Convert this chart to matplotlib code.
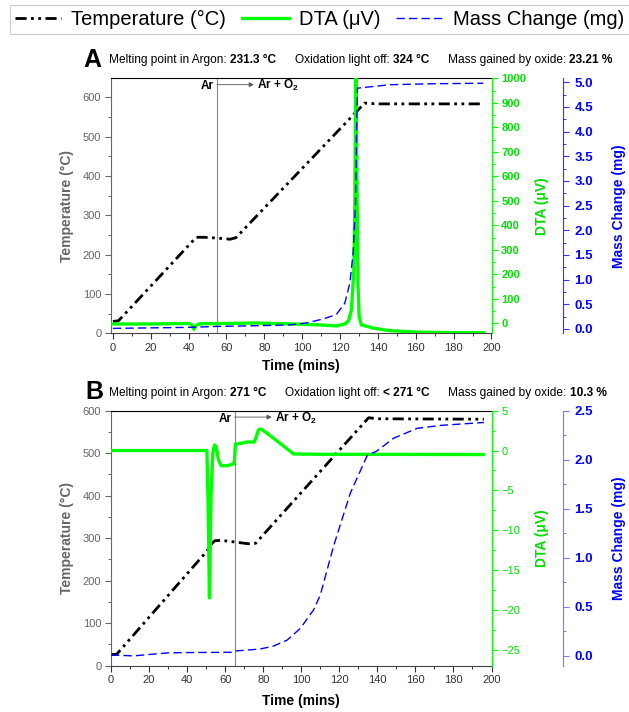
import matplotlib
matplotlib.use("Agg")
import matplotlib.pyplot as plt
from matplotlib.lines import Line2D
from matplotlib.ticker import MultipleLocator

plt.rcParams["font.family"] = ["Liberation Sans", "DejaVu Sans"]
plt.rcParams["mathtext.fontset"] = "custom"
plt.rcParams["mathtext.rm"] = "Liberation Sans"
plt.rcParams["mathtext.bf"] = "Liberation Sans:bold"

# ---- data ----
# panel A
a_temp_t = [0, 3, 44, 48, 55, 62, 65, 133, 140, 196]
a_temp = [30, 32, 244, 244, 242, 239, 243, 585, 583, 583]
a_dta_t = [0, 20, 40, 41.5, 42.8, 44, 46, 60, 75, 90, 100, 110, 118, 122.5, 124.5,
           126, 127.3, 127.8, 128.4, 128.9, 129.5, 130.1, 131.3, 133, 137.5, 146,
           160, 175, 196]
a_dta = [-3, -3, -1, -5, -25, -8, -2, -1, 1, -2, -4, -7, -11, -3, 10,
         54, 218, 490, 1100, 600, 150, 27, -7, -10, -20, -30,
         -36, -38, -39]
a_mass_t = [0, 20, 40, 55, 70, 83, 93.5, 102.3, 111, 118, 122.5, 125.2, 126.9,
            128.2, 128.7, 129.2, 146.3, 170, 195.6]
a_mass = [0.01, 0.02, 0.03, 0.05, 0.06, 0.07, 0.08, 0.12, 0.2, 0.29, 0.52, 0.93,
          1.54, 2.56, 3.92, 4.88, 4.95, 4.97, 4.98]

# panel B
b_temp_t = [0, 3, 50.5, 52.5, 54.5, 58, 65, 72, 76, 135.4, 140, 196]
b_temp = [26, 27, 270, 285, 294, 295, 291, 287, 288, 583.5, 581, 580]
b_dta_t = [0, 50.4, 51.0, 51.75, 52.6, 53.5, 54.4, 55.3, 56.5, 57.9, 60.9, 64.4,
           64.9, 65.4, 68, 71.4, 75.3, 76.3, 77.5, 78.8, 81.9, 88.9, 96, 110, 195.6]
b_dta = [0, 0, -6, -18.5, -5.4, -0.35, 0.7, 0.5, -1.2, -1.9, -1.9, -1.7,
         -1.2, 0.8, 0.9, 1.07, 1.07, 1.7, 2.6, 2.7, 2.2, 0.9, -0.43, -0.47, -0.5]
b_mass_t = [0, 11.8, 29.3, 39.8, 64.4, 65.3, 78.4, 85.4, 92.5, 99.5, 106.5, 110,
            117, 125.8, 134.6, 139.8, 148.6, 160.9, 173.2, 196]
b_mass = [0.01, 0.0, 0.03, 0.034, 0.037, 0.05, 0.07, 0.1, 0.16, 0.28, 0.47, 0.62,
          1.12, 1.66, 2.04, 2.09, 2.22, 2.32, 2.35, 2.38]

panel_letters = ["A", "B"]
melting_points = ["231.3 \u00b0C", "271 \u00b0C"]
light_off = ["324 \u00b0C", "< 271 \u00b0C"]
mass_gained = ["23.21 %", "10.3 %"]
gas_switch = [55, 65]
series_labels = ["Temperature (\u00b0C)", "DTA (\u03bcV)", "Mass Change (mg)"]

# ---- styles ----
W, H = 629, 712
GREEN = "#00ff00"
GREEN_TXT = "#00dd00"
BLUE = "#0000ff"
GRAY = "#666666"
TEMP_STYLE = dict(color="black", lw=2.0, linestyle=(0, (4, 1.6, 1, 1.6, 1, 1.6)))
DTA_STYLE = dict(color=GREEN, lw=2.4)
MASS_STYLE = dict(color=BLUE, lw=1.0, linestyle=(0, (6, 3)))

fig = plt.figure(figsize=(W / 100, H / 100), dpi=100)


def px_rect(left, top, right, bottom):
    return [left / W, 1 - bottom / H, (right - left) / W, (bottom - top) / H]


def header(y_base, pieces):
    renderer = fig.canvas.get_renderer()
    x = 109.3
    for txt, weight, gap in pieces:
        t = fig.text(x / W, 1 - y_base / H, txt, fontsize=8.6, fontweight=weight,
                     ha="left", va="baseline")
        x = t.get_window_extent(renderer).x1 + gap


def draw_panel(rect, i, temp_t, temp, dta_t, dta, mass_t, mass, xlim, temp_lim,
               dta_lim, dta_step, mass_lim, dta_bold, mass_spine, xlabel_y):
    ax = fig.add_axes(px_rect(*rect))
    ax.plot(temp_t, temp, **TEMP_STYLE)
    ax.set_xlim(*xlim)
    ax.set_ylim(*temp_lim)
    ax.xaxis.set_major_locator(MultipleLocator(20))
    ax.xaxis.set_minor_locator(MultipleLocator(10))
    ax.yaxis.set_major_locator(MultipleLocator(100))
    ax.yaxis.set_minor_locator(MultipleLocator(50))
    ax.tick_params(axis="y", which="both", colors=GRAY, labelsize=8, direction="out")
    ax.tick_params(axis="x", which="both", colors="#333333", labelsize=8, direction="out")
    ax.tick_params(which="major", length=4, width=0.8, pad=3)
    ax.tick_params(which="minor", length=2.5, width=0.7)
    ax.spines["right"].set_visible(False)
    ax.spines["left"].set_color(GRAY)
    ax.spines["bottom"].set_color("#444444")
    ax.spines["top"].set_color("black")
    ax.set_ylabel("Temperature (\u00b0C)", fontsize=10, fontweight="bold", color=GRAY)
    ax.yaxis.set_label_coords(-0.097, 0.5)
    ax.set_xlabel("Time (mins)", fontsize=10, fontweight="bold")
    ax.xaxis.set_label_coords(0.5, xlabel_y)

    # gas switch marker
    sw = gas_switch[i]
    ax.axvline(sw, color="#888888", lw=0.8, zorder=1)
    ax.annotate("Ar", xy=(sw, 0.957), xycoords=("data", "axes fraction"),
                xytext=(-2.4, 0), textcoords="offset points", ha="right",
                va="baseline", fontsize=8.5, fontweight="bold")
    ax.annotate("", xy=(sw + 19.5, 0.975), xytext=(sw, 0.975),
                xycoords=("data", "axes fraction"),
                arrowprops=dict(arrowstyle="-|>", color="#555555", lw=0.6,
                                mutation_scale=7, shrinkA=0, shrinkB=0))
    ax.text(sw + 21.3, 0.957, r"Ar + O$_\mathbf{2}$", transform=ax.get_xaxis_transform(),
            ha="left", va="baseline", fontsize=8.5, fontweight="bold")

    # DTA axis
    ax2 = ax.twinx()
    ax2.plot(dta_t, dta, **DTA_STYLE)
    ax2.set_ylim(*dta_lim)
    ax2.yaxis.set_major_locator(MultipleLocator(dta_step))
    ax2.yaxis.set_minor_locator(MultipleLocator(dta_step / 2))
    for s in ["left", "top", "bottom"]:
        ax2.spines[s].set_visible(False)
    ax2.spines["right"].set_color(GREEN)
    ax2.tick_params(axis="y", which="both", colors=GREEN, labelcolor=GREEN_TXT,
                    labelsize=8, direction="out")
    ax2.tick_params(which="major", length=4, width=0.8, pad=3)
    ax2.tick_params(which="minor", length=2.5, width=0.7)
    for lab in ax2.get_yticklabels():
        lab.set_fontweight("bold" if dta_bold else "normal")
    ax2.set_ylabel("DTA (\u03bcV)", fontsize=10, fontweight="bold", color=GREEN_TXT)
    ax2.yaxis.set_label_coords(1.114, 0.5)

    # mass axis
    ax3 = ax.twinx()
    ax3.plot(mass_t, mass, **MASS_STYLE)
    ax3.set_ylim(*mass_lim)
    ax3.yaxis.set_major_locator(MultipleLocator(0.5))
    ax3.yaxis.set_minor_locator(MultipleLocator(0.25))
    for s in ["left", "top", "bottom"]:
        ax3.spines[s].set_visible(False)
    ax3.spines["right"].set_position(("axes", 1.189))
    ax3.spines["right"].set_color(mass_spine)
    ax3.tick_params(axis="y", which="both", colors=mass_spine, labelcolor=BLUE,
                    labelsize=9.5, direction="out")
    ax3.tick_params(which="major", length=4, width=0.8, pad=4)
    ax3.tick_params(which="minor", length=2.5, width=0.7)
    ax3.yaxis.set_major_formatter(matplotlib.ticker.FormatStrFormatter("%.1f"))
    for lab in ax3.get_yticklabels():
        lab.set_fontweight("bold")
    ax3.set_ylabel("Mass Change (mg)", fontsize=10, fontweight="bold", color=BLUE)
    ax3.yaxis.set_label_coords(1.316, 0.5)
    return ax


draw_panel((111, 78.3, 491.5, 333.3), 0, a_temp_t, a_temp, a_dta_t, a_dta,
           a_mass_t, a_mass, (-1, 200), (0, 648), (-41, 1000), 100, (-0.09, 5.08),
           True, "#3333ff", -0.102)
draw_panel((111, 410.7, 491.5, 665.7), 1, b_temp_t, b_temp, b_dta_t, b_dta,
           b_mass_t, b_mass, (0, 200), (0, 600), (-27, 5), 5, (-0.1, 2.5),
           False, "#7777ff", -0.111)

# panel letters and header lines
for letter, x, yb in [(panel_letters[0], 83.3, 66.7), (panel_letters[1], 85, 399)]:
    fig.text(x / W, 1 - yb / H, letter, fontsize=18, fontweight="bold",
             ha="left", va="baseline")
for i, yb in enumerate([63.3, 396.3]):
    header(yb, [
        ("Melting point in Argon:", "normal", 3.3),
        (melting_points[i], "bold", 18.5),
        ("Oxidation light off:", "normal", 3.3),
        (light_off[i], "bold", 18.5),
        ("Mass gained by oxide:", "normal", 3.3),
        (mass_gained[i], "bold", 0),
    ])

# legend
handles = [Line2D([], [], **TEMP_STYLE), Line2D([], [], **DTA_STYLE),
           Line2D([], [], **MASS_STYLE)]
leg = fig.legend(handles, series_labels, loc="upper left",
                 bbox_to_anchor=(10 / W, 1 - 5 / H), ncol=3, fontsize=14.5,
                 handlelength=2.3, handletextpad=0.5, columnspacing=0.8,
                 borderpad=0.25, borderaxespad=0, fancybox=False, frameon=True)
leg.get_frame().set_edgecolor("#c0c0c0")
leg.get_frame().set_linewidth(0.8)

fig.savefig("out.png", dpi=100)
